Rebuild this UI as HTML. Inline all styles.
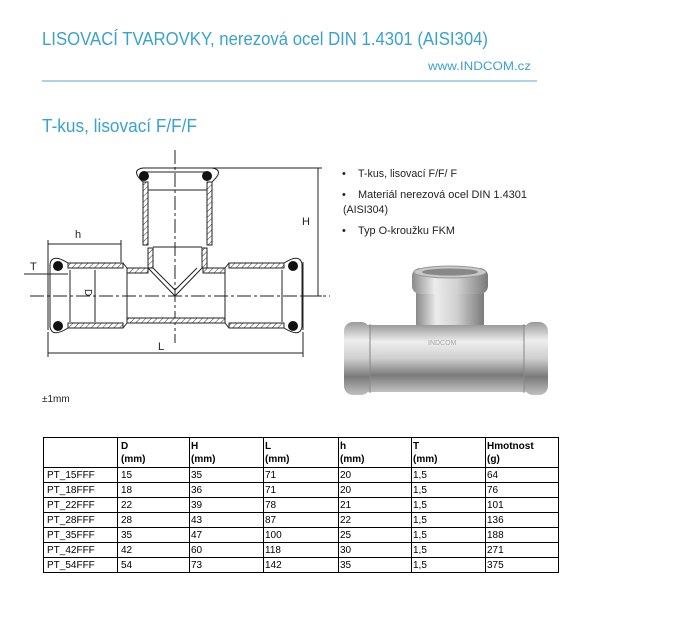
<!DOCTYPE html>
<html><head><meta charset="utf-8"><style>
html,body{margin:0;padding:0;background:#fff;}
svg{display:block;}
text{font-family:"Liberation Sans",sans-serif;}
</style></head><body>
<svg width="684" height="630" viewBox="0 0 684 630" xmlns="http://www.w3.org/2000/svg">
<defs>
<pattern id="hat" width="4" height="4" patternUnits="userSpaceOnUse" patternTransform="rotate(45)">
<rect width="4" height="4" fill="#fff"/><line x1="0" y1="0" x2="0" y2="4" stroke="#333" stroke-width="1"/></pattern>
<linearGradient id="met" x1="0" y1="0" x2="0" y2="1">
<stop offset="0" stop-color="#9a9a9a"/><stop offset="0.25" stop-color="#eeeeee"/><stop offset="0.5" stop-color="#cfcfcf"/><stop offset="0.75" stop-color="#7a7a7a"/><stop offset="1" stop-color="#c0c0c0"/></linearGradient>
<linearGradient id="metv" x1="0" y1="0" x2="1" y2="0">
<stop offset="0" stop-color="#8a8a8a"/><stop offset="0.3" stop-color="#ececec"/><stop offset="0.6" stop-color="#d0d0d0"/><stop offset="1" stop-color="#7a7a7a"/></linearGradient>
</defs>
<text x="42" y="45" font-size="18" fill="#3aa2cf" textLength="446" lengthAdjust="spacingAndGlyphs">LISOVACÍ TVAROVKY, nerezová ocel DIN 1.4301 (AISI304)</text>
<text x="428" y="70" font-size="12" fill="#3aa2cf" textLength="103" lengthAdjust="spacingAndGlyphs">www.INDCOM.cz</text>
<line x1="42" y1="81" x2="537" y2="81" stroke="#5aa9cc" stroke-width="1"/>
<text x="42" y="132" font-size="18" fill="#3aa2cf" textLength="155" lengthAdjust="spacingAndGlyphs">T-kus, lisovací F/F/F</text>

<g stroke="#222" stroke-width="1" fill="none">
<line x1="175" y1="150" x2="175" y2="343" stroke-dasharray="14,3,3,3"/>
<line x1="30" y1="296" x2="330" y2="296" stroke-dasharray="14,3,3,3"/>
<rect x="68" y="263" width="55" height="5" fill="url(#hat)"/>
<rect x="127" y="268" width="21" height="5" fill="url(#hat)"/>
<rect x="203" y="268" width="22" height="5" fill="url(#hat)"/>
<rect x="229" y="263" width="55" height="5" fill="url(#hat)"/>
<rect x="68" y="323" width="55" height="5" fill="url(#hat)"/>
<rect x="127" y="318" width="98" height="5" fill="url(#hat)"/>
<rect x="229" y="323" width="55" height="5" fill="url(#hat)"/>
<line x1="123" y1="263" x2="127" y2="268"/><line x1="123" y1="328" x2="127" y2="323"/>
<line x1="225" y1="268" x2="229" y2="263"/><line x1="225" y1="323" x2="229" y2="328"/>
<path d="M68,263 Q52,253 50,264 L50,327 Q52,338 68,328"/>
<path d="M284,263 Q300,253 302,264 L302,327 Q300,338 284,328"/>
<line x1="48" y1="262" x2="48" y2="330"/>
<line x1="303" y1="262" x2="303" y2="330"/>
<line x1="70" y1="270" x2="70" y2="322"/><line x1="282" y1="270" x2="282" y2="322"/>
<line x1="127" y1="273" x2="127" y2="318"/><line x1="225" y1="273" x2="225" y2="318"/>
<rect x="143" y="182" width="5" height="63" fill="url(#hat)"/>
<rect x="207" y="182" width="5" height="63" fill="url(#hat)"/>
<rect x="148" y="248" width="5" height="20" fill="url(#hat)"/>
<rect x="202" y="248" width="5" height="20" fill="url(#hat)"/>
<path d="M143,182 Q130,170 143,168 L212,168 Q225,170 212,182"/>
<line x1="146" y1="172" x2="209" y2="172"/>
<line x1="148" y1="190" x2="207" y2="190"/>
<line x1="153" y1="247" x2="202" y2="247"/>
<path d="M148,268 L175,296 L202,268"/>
<path d="M153,268 L175,290 L197,268"/>
<g fill="#111" stroke="none">
<circle cx="58" cy="266" r="5"/><circle cx="58" cy="326" r="5"/>
<circle cx="293" cy="266" r="5"/><circle cx="293" cy="326" r="5"/>
<circle cx="144" cy="176" r="5"/><circle cx="207" cy="176" r="5"/>
</g>
<line x1="48" y1="244" x2="121" y2="244"/>
<line x1="48" y1="240" x2="48" y2="262"/><line x1="121" y1="240" x2="121" y2="262"/>
<line x1="48" y1="353" x2="303" y2="353"/>
<line x1="48" y1="332" x2="48" y2="357"/><line x1="303" y1="332" x2="303" y2="357"/>
<line x1="318" y1="168" x2="318" y2="296"/>
<line x1="212" y1="168" x2="322" y2="168"/><line x1="300" y1="296" x2="322" y2="296"/>
<line x1="95" y1="270" x2="95" y2="322"/>
<line x1="24" y1="274" x2="68" y2="274"/>
</g>
<text x="75" y="238" font-size="11" fill="#222">h</text>
<text x="302" y="225" font-size="11" fill="#222">H</text>
<text x="158" y="350" font-size="11" fill="#222">L</text>
<text x="30" y="270" font-size="11" fill="#222">T</text>
<text x="84" y="296" font-size="10" fill="#222" transform="rotate(90 88 293)">D</text>

<g font-size="11" fill="#222">
<text x="342" y="177">•</text><text x="358" y="177" textLength="99" lengthAdjust="spacingAndGlyphs">T-kus, lisovací F/F/ F</text>
<text x="342" y="198">•</text><text x="358" y="198" textLength="169" lengthAdjust="spacingAndGlyphs">Materiál nerezová ocel DIN 1.4301</text>
<text x="343" y="213" textLength="45" lengthAdjust="spacingAndGlyphs">(AISI304)</text>
<text x="342" y="234">•</text><text x="358" y="234" textLength="97" lengthAdjust="spacingAndGlyphs">Typ O-kroužku FKM</text>
</g>

<rect x="416" y="290" width="68" height="38" rx="4" fill="url(#metv)"/>
<rect x="412" y="268" width="76" height="26" rx="8" fill="url(#metv)"/>
<ellipse cx="450" cy="272" rx="36" ry="6" fill="#c8c8c8" stroke="#999"/>
<ellipse cx="450" cy="272" rx="28" ry="3.5" fill="#888"/>
<rect x="352" y="325" width="190" height="67" rx="6" fill="url(#met)"/>
<rect x="344" y="322" width="26" height="73" rx="9" fill="url(#met)"/>
<rect x="524" y="322" width="24" height="73" rx="9" fill="url(#met)"/>
<line x1="370" y1="324" x2="370" y2="393" stroke="#888"/>
<line x1="524" y1="324" x2="524" y2="393" stroke="#888"/>
<text x="428" y="345" font-size="7" fill="#aaa">INDCOM</text>

<text x="42" y="402" font-size="10" fill="#222">±1mm</text>

<g stroke="#000" stroke-width="1" fill="none">
<rect x="43.5" y="437.5" width="515" height="135"/>
<line x1="43" y1="467.5" x2="559" y2="467.5"/>
<line x1="43" y1="482.5" x2="559" y2="482.5"/>
<line x1="43" y1="497.5" x2="559" y2="497.5"/>
<line x1="43" y1="512.5" x2="559" y2="512.5"/>
<line x1="43" y1="527.5" x2="559" y2="527.5"/>
<line x1="43" y1="542.5" x2="559" y2="542.5"/>
<line x1="43" y1="557.5" x2="559" y2="557.5"/>
<line x1="117.5" y1="437" x2="117.5" y2="573"/>
<line x1="189.5" y1="437" x2="189.5" y2="573"/>
<line x1="263.5" y1="437" x2="263.5" y2="573"/>
<line x1="338.5" y1="437" x2="338.5" y2="573"/>
<line x1="411.5" y1="437" x2="411.5" y2="573"/>
<line x1="485.5" y1="437" x2="485.5" y2="573"/>
</g>
<g font-size="10" fill="#000" font-weight="bold">
<text x="121" y="449">D</text><text x="121" y="462">(mm)</text>
<text x="191" y="449">H</text><text x="191" y="462">(mm)</text>
<text x="265" y="449">L</text><text x="265" y="462">(mm)</text>
<text x="340" y="449">h</text><text x="340" y="462">(mm)</text>
<text x="413" y="449">T</text><text x="413" y="462">(mm)</text>
<text x="487" y="449">Hmotnost</text><text x="487" y="462">(g)</text>
</g>
<g font-size="10" fill="#000">
<text x="47" y="478">PT_15FFF</text><text x="121" y="478">15</text><text x="191" y="478">35</text><text x="265" y="478">71</text><text x="340" y="478">20</text><text x="413" y="478">1,5</text><text x="487" y="478">64</text>
<text x="47" y="493">PT_18FFF</text><text x="121" y="493">18</text><text x="191" y="493">36</text><text x="265" y="493">71</text><text x="340" y="493">20</text><text x="413" y="493">1,5</text><text x="487" y="493">76</text>
<text x="47" y="508">PT_22FFF</text><text x="121" y="508">22</text><text x="191" y="508">39</text><text x="265" y="508">78</text><text x="340" y="508">21</text><text x="413" y="508">1,5</text><text x="487" y="508">101</text>
<text x="47" y="523">PT_28FFF</text><text x="121" y="523">28</text><text x="191" y="523">43</text><text x="265" y="523">87</text><text x="340" y="523">22</text><text x="413" y="523">1,5</text><text x="487" y="523">136</text>
<text x="47" y="538">PT_35FFF</text><text x="121" y="538">35</text><text x="191" y="538">47</text><text x="265" y="538">100</text><text x="340" y="538">25</text><text x="413" y="538">1,5</text><text x="487" y="538">188</text>
<text x="47" y="553">PT_42FFF</text><text x="121" y="553">42</text><text x="191" y="553">60</text><text x="265" y="553">118</text><text x="340" y="553">30</text><text x="413" y="553">1,5</text><text x="487" y="553">271</text>
<text x="47" y="568">PT_54FFF</text><text x="121" y="568">54</text><text x="191" y="568">73</text><text x="265" y="568">142</text><text x="340" y="568">35</text><text x="413" y="568">1,5</text><text x="487" y="568">375</text>
</g>
</svg>
</body></html>
